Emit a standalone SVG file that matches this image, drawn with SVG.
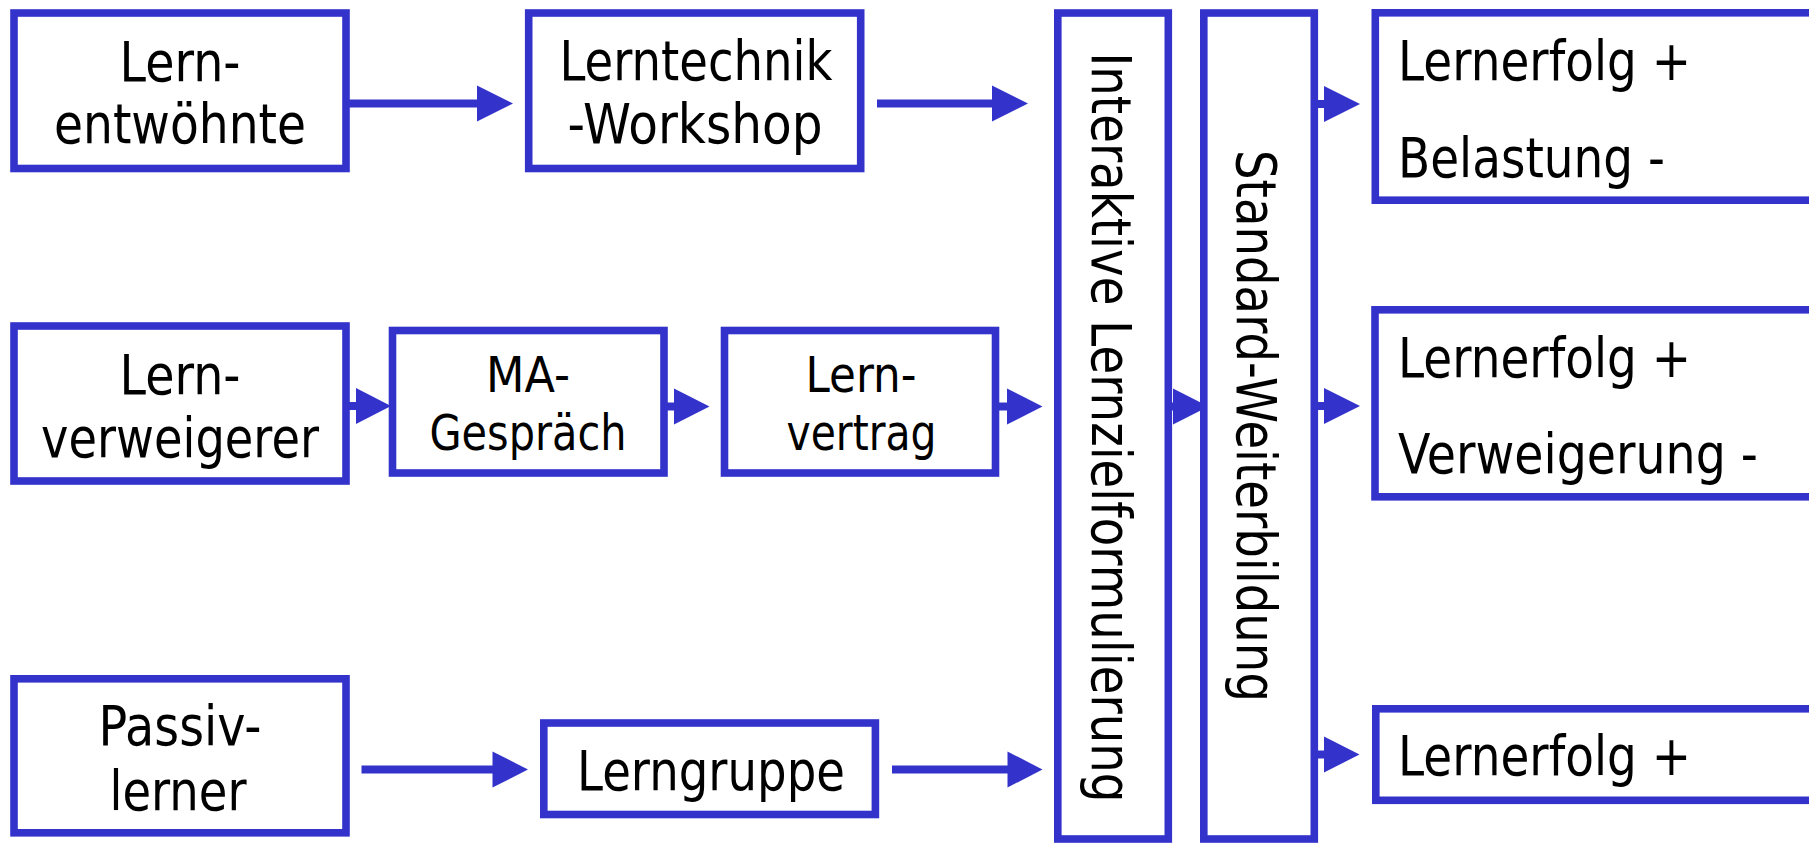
<svg xmlns="http://www.w3.org/2000/svg" width="1809" height="843" viewBox="0 0 1809 843">
<style>
.box{fill:#fff;stroke:#3333cc;stroke-width:7.6}
.ln{stroke:#3333cc;stroke-width:8;fill:none}
.hd{fill:#3333cc}
.t{font-family:"DejaVu Sans",Verdana,sans-serif;font-size:55px;fill:#000}
.s{font-size:50px}
.m{text-anchor:middle}
</style>
<rect width="1809" height="843" fill="#fff"/>
<g id="connectors">
<line class="ln" x1="346" y1="103.5" x2="478" y2="103.5"/><polygon class="hd" points="477,85.5 513,103.5 477,121.5"/>
<line class="ln" x1="877" y1="103.5" x2="993" y2="103.5"/><polygon class="hd" points="992,85.5 1028,103.5 992,121.5"/>
<line class="ln" x1="1314" y1="104" x2="1325" y2="104"/><polygon class="hd" points="1324,86 1360,104 1324,122"/>
<line class="ln" x1="346" y1="406" x2="357" y2="406"/><polygon class="hd" points="356,388 391,406 356,424"/>
<line class="ln" x1="664" y1="406.5" x2="675" y2="406.5"/><polygon class="hd" points="674,388.5 709.5,406.5 674,424.5"/>
<line class="ln" x1="996" y1="406.5" x2="1008" y2="406.5"/><polygon class="hd" points="1007,388.5 1042.5,406.5 1007,424.5"/>
<line class="ln" x1="1164" y1="406.5" x2="1174" y2="406.5"/><polygon class="hd" points="1173,388.5 1208.5,406.5 1173,424.5"/>
<line class="ln" x1="1314" y1="406" x2="1325" y2="406"/><polygon class="hd" points="1324,388 1360,406 1324,424"/>
<line class="ln" x1="361.5" y1="769.5" x2="493.5" y2="769.5"/><polygon class="hd" points="492.5,751.5 528,769.5 492.5,787.5"/>
<line class="ln" x1="892" y1="769.5" x2="1008.5" y2="769.5"/><polygon class="hd" points="1007.5,751.5 1042.5,769.5 1007.5,787.5"/>
<line class="ln" x1="1314" y1="754.5" x2="1325" y2="754.5"/><polygon class="hd" points="1324,736.5 1359.5,754.5 1324,772.5"/>
</g>
<g id="n-lernentwoehnte">
<rect class="box" x="14" y="13" width="332" height="155.5"/>
<text class="t m" x="180" y="81" textLength="121" lengthAdjust="spacingAndGlyphs">Lern-</text>
<text class="t m" x="180" y="143" textLength="252" lengthAdjust="spacingAndGlyphs">entwöhnte</text>
</g>
<g id="n-workshop">
<rect class="box" x="528.7" y="13" width="332" height="155.5"/>
<text class="t m" x="696" y="80" textLength="273" lengthAdjust="spacingAndGlyphs">Lerntechnik</text>
<text class="t m" x="695" y="143" textLength="255" lengthAdjust="spacingAndGlyphs">-Workshop</text>
</g>
<g id="n-interaktive">
<rect class="box" x="1057.8" y="13" width="110.5" height="826"/>
<text class="t m" transform="translate(1092,427.5) rotate(90)" x="0" y="0" textLength="750" lengthAdjust="spacingAndGlyphs">Interaktive Lernzielformulierung</text>
</g>
<g id="n-standard">
<rect class="box" x="1203.8" y="13" width="110.5" height="826"/>
<text class="t m" transform="translate(1237,426) rotate(90)" x="0" y="0" textLength="552" lengthAdjust="spacingAndGlyphs">Standard-Weiterbildung</text>
</g>
<g id="n-ergebnis1">
<rect class="box" x="1375.3" y="12.8" width="500" height="187.4"/>
<text class="t" x="1398" y="80" textLength="293" lengthAdjust="spacingAndGlyphs">Lernerfolg +</text>
<text class="t" x="1398" y="177" textLength="267" lengthAdjust="spacingAndGlyphs">Belastung -</text>
</g>
<g id="n-lernverweigerer">
<rect class="box" x="14" y="326" width="332" height="155"/>
<text class="t m" x="180" y="394" textLength="121" lengthAdjust="spacingAndGlyphs">Lern-</text>
<text class="t m" x="180" y="456.7" textLength="278" lengthAdjust="spacingAndGlyphs">verweigerer</text>
</g>
<g id="n-ma-gespraech">
<rect class="box" x="392.5" y="330.5" width="271.5" height="142.5"/>
<text class="t s m" x="528" y="391.7" textLength="84" lengthAdjust="spacingAndGlyphs">MA-</text>
<text class="t s m" x="528" y="450" textLength="197" lengthAdjust="spacingAndGlyphs">Gespräch</text>
</g>
<g id="n-lernvertrag">
<rect class="box" x="724.5" y="330.5" width="271" height="142.5"/>
<text class="t s m" x="861" y="391.7" textLength="111" lengthAdjust="spacingAndGlyphs">Lern-</text>
<text class="t s m" x="861.5" y="450" textLength="150" lengthAdjust="spacingAndGlyphs">vertrag</text>
</g>
<g id="n-ergebnis2">
<rect class="box" x="1375" y="309.8" width="500" height="187"/>
<text class="t" x="1398" y="376.7" textLength="293" lengthAdjust="spacingAndGlyphs">Lernerfolg +</text>
<text class="t" x="1398" y="473.3" textLength="360" lengthAdjust="spacingAndGlyphs">Verweigerung -</text>
</g>
<g id="n-passivlerner">
<rect class="box" x="14" y="678.8" width="332" height="154"/>
<text class="t m" x="180" y="745" textLength="163" lengthAdjust="spacingAndGlyphs">Passiv-</text>
<text class="t m" x="178" y="810" textLength="137" lengthAdjust="spacingAndGlyphs">lerner</text>
</g>
<g id="n-lerngruppe">
<rect class="box" x="543.8" y="723" width="331.6" height="91.5"/>
<text class="t m" x="711" y="790" textLength="268" lengthAdjust="spacingAndGlyphs">Lerngruppe</text>
</g>
<g id="n-ergebnis3">
<rect class="box" x="1375.8" y="708.8" width="500" height="91.5"/>
<text class="t" x="1398" y="775" textLength="293" lengthAdjust="spacingAndGlyphs">Lernerfolg +</text>
</g>
</svg>
